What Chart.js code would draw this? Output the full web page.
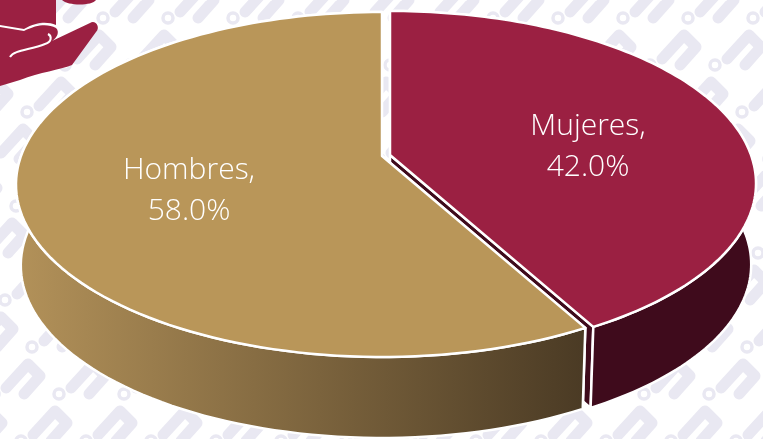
<!DOCTYPE html>
<html>
<head>
<meta charset="utf-8">
<style>
html, body { margin: 0; padding: 0; background: #fff; overflow: hidden; }
#wrap { position: relative; width: 763px; height: 439px; }
#deco, #chart { position: absolute; left: 0; top: 0; }
</style>
</head>
<body>
<div id="wrap">
	<svg id="deco" width="763" height="439" xmlns="http://www.w3.org/2000/svg">
		<defs>
			<g id="motif" fill="none" stroke="#e9e8f2" stroke-linecap="round" stroke-linejoin="round">
				<circle cx="0" cy="0" r="5" stroke-width="3.5"/>
				<path d="M12 -6 L34 -30 L46 -18 L30 0" stroke-width="11"/>
			</g>
		</defs>
		<g id="tiles"></g>
		<path fill="#9b2042" d="M0 0H56V25C48 22 38 21 24 29L0 25ZM62 0H96C92 6 68 6 62 0ZM0 27L24 31C38 24 48 24 56 28C60 32 57 38 52 41L90 23C95 19 101 27 96 32L72 65C60 70 40 72 20 80L0 86Z"/>
		<path fill="none" stroke="#fff" stroke-width="2" d="M10 57C14 50 30 50 45 44C52 42 52 36 48 34"/>
	</svg>
	<canvas id="chart" width="763" height="439"></canvas>
</div>
<script src="https://cdn.jsdelivr.net/npm/chart.js@4"></script>
<script>
var categories = ['Mujeres', 'Hombres'];
var values = [42.0, 58.0];
var top_colors = ['#9b2042', '#b99659'];

// marca de agua
var tiles = document.getElementById('tiles');
for (var row = -1; row < 11; row++) {
	for (var col = -2; col < 15; col++) {
		var use = document.createElementNS('http://www.w3.org/2000/svg', 'use');
		use.setAttribute('href', '#motif');
		use.setAttribute('x', 32 + col * 65 + ((row - 7) * 27) % 65);
		use.setAttribute('y', 347 + (row - 7) * 47);
		tiles.appendChild(use);
	}
}

// perspectiva del pastel: angulo del arco -> punto en pantalla
var APEX = [[390, 155], [382, 156]];
var K = -0.165, A = 167.8, B = 361, DEPTH = 81, SHRINK = 0.987, MID_X = 386;

function project(i, angle) {
	var u = Math.cos(angle), v = Math.sin(angle);
	var d = 1 + K * v;
	return [APEX[i][0] + B * u / d, APEX[i][1] + A * v / d];
}
function lower(p) {
	return [MID_X + (p[0] - MID_X) * SHRINK, p[1] + DEPTH];
}
function arcPoints(i, el) {
	var pts = [], steps = 120;
	for (var n = 0; n <= steps; n++) {
		pts.push(project(i, el.startAngle + (el.endAngle - el.startAngle) * n / steps));
	}
	return pts;
}
function poly(ctx, pts, fill) {
	ctx.beginPath();
	pts.forEach(function(p, n) {
		if (n == 0) ctx.moveTo(p[0], p[1]); else ctx.lineTo(p[0], p[1]);
	});
	ctx.closePath();
	ctx.fillStyle = fill;
	ctx.fill();
	ctx.stroke();
}

var pie3d = {
	id: 'pie3d',
	beforeDatasetsDraw: function(chart) {
		var ctx = chart.ctx;
		var arcs = chart.getDatasetMeta(0).data;
		var grad = ctx.createLinearGradient(20, 0, 587, 0);
		grad.addColorStop(0, '#b29159');
		grad.addColorStop(1, '#4a3a24');
		var wall_colors = ['#3f0b1c', grad];

		ctx.save();
		ctx.strokeStyle = '#fff';
		ctx.lineWidth = 2.5;
		ctx.lineJoin = 'round';
		arcs.forEach(function(el, i) {
			var pts = arcPoints(i, el);
			var apex = APEX[i];
			// cara del corte
			var edge = i == 0 ? pts[pts.length - 1] : pts[0];
			poly(ctx, [apex, edge, lower(edge), lower(apex)], wall_colors[i]);
			// pared exterior
			poly(ctx, pts.concat(pts.map(lower).reverse()), wall_colors[i]);
			// cara superior
			poly(ctx, [apex].concat(pts), top_colors[i]);
		});
		ctx.restore();

		var label_pos = [[588, 135, 176], [189, 179, 220]];
		ctx.save();
		ctx.fillStyle = '#fff';
		ctx.font = '300 30px "Open Sans"';
		ctx.textAlign = 'center';
		ctx.textBaseline = 'alphabetic';
		categories.forEach(function(name, i) {
			ctx.fillText(name + ',', label_pos[i][0], label_pos[i][1]);
			ctx.fillText(values[i].toFixed(1) + '%', label_pos[i][0], label_pos[i][2]);
		});
		ctx.restore();
		return false;
	}
};

window.pieChart = new Chart(document.getElementById('chart'), {
	type: 'pie',
	data: {
		labels: categories,
		datasets: [{ data: values, backgroundColor: top_colors }]
	},
	options: {
		responsive: false,
		animation: false,
		plugins: {
			legend: { display: false },
			tooltip: { enabled: false }
		}
	},
	plugins: [pie3d]
});
</script>
</body>
</html>
